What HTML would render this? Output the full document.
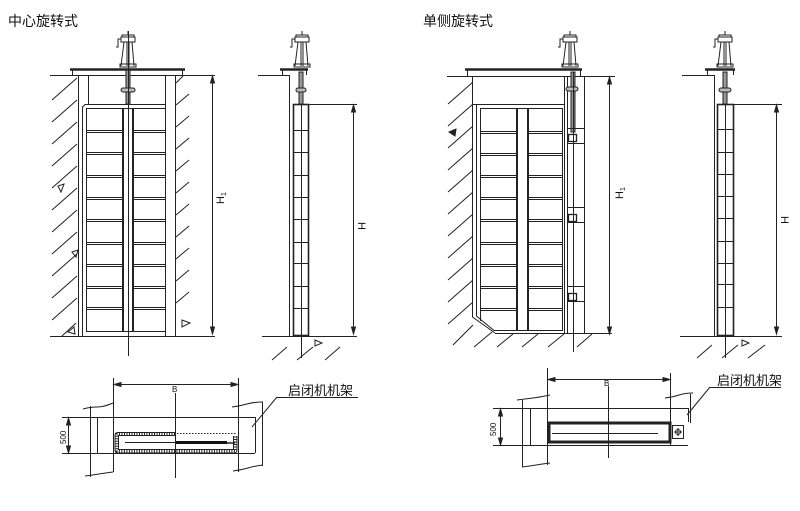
<!DOCTYPE html>
<html><head><meta charset="utf-8"><style>
html,body{margin:0;padding:0;background:#fff;}
svg{display:block;}
text{font-family:"Liberation Sans","Noto Sans CJK SC",sans-serif;fill:#111;}
</style></head><body>
<svg width="800" height="511" viewBox="0 0 800 511" xmlns="http://www.w3.org/2000/svg">
<rect width="800" height="511" fill="#fff"/>
<text x="8" y="26" font-size="14">中心旋转式</text>
<text x="423" y="26" font-size="14">单侧旋转式</text>

<g stroke="#222" stroke-width="1" fill="none">
<!-- ============ LEFT FRONT VIEW ============ -->
<g transform="translate(128,0)">
 <path d="M0 31V35"/><rect x="-6" y="35" width="12" height="2"/><rect x="-7" y="37" width="14" height="5"/>
 <path d="M-7 39H-10V47H-12"/><path d="M-4 42L-7 66M4 42L6 66M-1 42V66M1 42V66"/><rect x="-8" y="64" width="16" height="3"/>
</g>
<path d="M70 69.5H185" stroke-width="2.5"/>
<path d="M72.5 69V75M182.5 69V75"/>
<path d="M50 75.5H215"/>
<path d="M78.5 75V336M88.5 75V104M165.5 75V336M175.5 75V336"/>
<path d="M82.5 336V107L85 104.5H165"/>
<path d="M86.5 331V108.5H165"/>
<path d="M86 331.5H165"/>
<path d="M122.5 108V331M123.5 108V331M132.5 108V331M133.5 108V331"/>
<rect x="126" y="70" width="4" height="34" fill="#999"/>
<rect x="121" y="88" width="14" height="4" rx="2" fill="#bbb"/>
<path d="M86 130.5H122M86 132.5H122M134 130.5H165M134 132.5H165
M86 152.5H122M86 154.5H122M134 152.5H165M134 154.5H165
M86 175.5H122M86 177.5H122M134 175.5H165M134 177.5H165
M86 197.5H122M86 199.5H122M134 197.5H165M134 199.5H165
M86 219.5H122M86 221.5H122M134 219.5H165M134 221.5H165
M86 242.5H122M86 244.5H122M134 242.5H165M134 244.5H165
M86 264.5H122M86 266.5H122M134 264.5H165M134 266.5H165
M86 286.5H122M86 288.5H122M134 286.5H165M134 288.5H165
M86 307.5H122M86 309.5H122M134 307.5H165M134 309.5H165"/>
<path d="M128.5 31V356"/>
<path d="M50 336.5H215"/>
<path d="M52 100L77 78M52 122L77 100M52 144L77 122M52 166L77 144M52 188L77 166M52 210L77 188M52 232L77 210M52 254L77 232M52 276L77 254M52 298L77 276M52 320L77 298M62 336L76 323"/>
<path d="M176 83L183 76M176 105L189 94M176 127L189 116M176 149L189 138M176 171L189 160M176 193L189 182M176 215L189 204M176 237L189 226M176 259L189 248M176 281L189 270M176 303L189 292"/>
<path d="M58 186L64 184L61 192Z M72 252L78 250L76 257Z M68 332L74 327L75 334Z M182 320L190 323L182 327Z"/>
<path d="M212.5 78V333"/>
<path d="M212.5 76l-2 7h4z M212.5 334l-2 -7h4z" fill="#222"/>

<!-- ============ LEFT SIDE VIEW ============ -->
<g transform="translate(302,0)">
 <path d="M0 31V35"/><rect x="-6" y="35" width="12" height="2"/><rect x="-7" y="37" width="14" height="5"/>
 <path d="M-7 39H-10V47H-12"/><path d="M-4 42L-7 66M4 42L6 66M-1 42V66M1 42V66"/><rect x="-8" y="64" width="16" height="3"/>
</g>
<path d="M280 69.5H308" stroke-width="2.5"/>
<path d="M282.5 69V75M306.5 69V75"/>
<path d="M258 75.5H290"/>
<path d="M289.5 75V336"/>
<rect x="299" y="72" width="4" height="32" fill="#999"/>
<rect x="296" y="88" width="10" height="4" rx="2" fill="#bbb"/>
<rect x="293.5" y="104.5" width="15" height="231" stroke-width="1.6"/>
<path d="M301.5 104V358"/>
<path d="M294 130.5H309M294 152.5H309M294 175.5H309M294 197.5H309M294 219.5H309M294 242.5H309M294 263.5H309M294 286.5H309M294 308.5H309"/>
<path d="M309 104.5H357"/>
<path d="M353.5 107V331"/>
<path d="M353.5 105l-2 7h4z M353.5 334l-2 -7h4z" fill="#222"/>
<path d="M262 336.5H357"/>
<path d="M272 360L287 347M297 360L313 347M325 360L340 347"/>
<path d="M315 340L322 343L315 346Z"/>

<!-- ============ RIGHT FRONT VIEW ============ -->
<g transform="translate(570,0)">
 <path d="M0 31V35"/><rect x="-6" y="35" width="12" height="2"/><rect x="-7" y="37" width="14" height="5"/>
 <path d="M-7 39H-10V47H-12"/><path d="M-4 42L-7 66M4 42L6 66M-1 42V66M1 42V66"/><rect x="-8" y="64" width="16" height="3"/>
</g>
<path d="M465 69.5H582" stroke-width="2.5"/>
<path d="M467.5 69V76M580.5 69V76"/>
<path d="M447 76.5H615"/>
<path d="M472.5 76V317L495 333"/>
<path d="M476.5 104V316L494 330.5H562"/>
<path d="M473 104.5H564M480.5 108V321M480 108.5H562"/>
<path d="M516.5 108V331M517.5 108V331M527.5 108V331M528.5 108V331M562.5 108V331"/>
<path d="M564.5 76V333M567.5 76V334M584.5 76V334"/>
<path d="M495 333.5H612"/>
<path d="M480 131.5H516M480 133.5H516M529 131.5H562M529 133.5H562
M480 153.5H516M480 155.5H516M529 153.5H562M529 155.5H562
M480 175.5H516M480 177.5H516M529 175.5H562M529 177.5H562
M480 197.5H516M480 199.5H516M529 197.5H562M529 199.5H562
M480 219.5H516M480 221.5H516M529 219.5H562M529 221.5H562
M480 242.5H516M480 244.5H516M529 242.5H562M529 244.5H562
M480 264.5H516M480 266.5H516M529 264.5H562M529 266.5H562
M480 286.5H516M480 288.5H516M529 286.5H562M529 288.5H562
M480 308.5H516M480 310.5H516M529 308.5H562M529 310.5H562"/>
<rect x="571" y="72" width="4" height="60" fill="#999"/>
<rect x="566" y="87" width="12" height="4" rx="2" fill="#bbb"/>
<path d="M567 128.5H584M567 143.5H584M567 207.5H584M567 222.5H584M567 286.5H584M567 301.5H584"/>
<rect x="568.5" y="134.5" width="8" height="7" stroke-width="1.3"/>
<rect x="568.5" y="214.5" width="8" height="7" stroke-width="1.3"/>
<rect x="568.5" y="293.5" width="8" height="7" stroke-width="1.3"/>
<path d="M573.5 72V352"/>
<path d="M448 104L473 82M448 126L473 104M448 148L473 126M448 170L473 148M448 192L473 170M448 214L473 192M448 236L473 214M448 258L473 236M448 280L473 258M448 302L473 280M448 324L473 302"/>
<path d="M453 345L473 325M474 347L492 332M497 347L513 334M522 347L538 334M548 347L564 334M577 347L592 334"/>
<path d="M449 132L456 129L455 136Z" fill="#222"/>
<path d="M609.5 79V331"/>
<path d="M609.5 77l-2 7h4z M609.5 334l-2 -7h4z" fill="#222"/>

<!-- ============ RIGHT SIDE VIEW ============ -->
<g transform="translate(725,0)">
 <path d="M0 31V35"/><rect x="-6" y="35" width="12" height="2"/><rect x="-7" y="37" width="14" height="5"/>
 <path d="M-7 39H-10V47H-12"/><path d="M-4 42L-7 66M4 42L6 66M-1 42V66M1 42V66"/><rect x="-8" y="64" width="16" height="3"/>
</g>
<path d="M705 69.5H735" stroke-width="2.5"/>
<path d="M707.5 69V75M733.5 69V75"/>
<path d="M682 75.5H715"/>
<path d="M714.5 75V336"/>
<rect x="723" y="72" width="4" height="32" fill="#999"/>
<rect x="719" y="88" width="12" height="4" rx="2" fill="#bbb"/>
<rect x="717.5" y="104.5" width="16" height="231" stroke-width="1.6"/>
<path d="M725.5 104V358"/>
<path d="M718 129.5H734M718 152.5H734M718 174.5H734M718 196.5H734M718 218.5H734M718 241.5H734M718 263.5H734M718 284.5H734M718 307.5H734"/>
<path d="M734 104.5H782"/>
<path d="M776.5 107V331"/>
<path d="M776.5 105l-2 7h4z M776.5 334l-2 -7h4z" fill="#222"/>
<path d="M680 336.5H782"/>
<path d="M697 358L712 345M722 358L738 345M748 358L765 345"/>
<path d="M742 340L749 343L742 346Z"/>

<!-- ============ LEFT PLAN ============ -->
<path d="M83 409q7 -2 14 -2t16 -4M85 476q8 -1 14 -2t14 -2M232 407q8 -1 15 -3t16 -2M233 471q8 -1 15 -3t15 -3"/>
<path d="M90.5 406V477M262.5 402V466"/>
<path d="M113.5 378V472M238.5 378V472"/>
<path d="M116 384.5H236"/>
<path d="M114 384.5l7 -2v4z M238 384.5l-7 -2v4z" fill="#222"/>
<path d="M175.5 393V478"/>
<path d="M62 417.5H255M62 453.5H255M255.5 417V453M97.5 417V453"/>
<path d="M68.5 420V451"/>
<path d="M68.5 418l-2 7h4z M68.5 453l-2 -7h4z" fill="#222"/>
<!-- gate plan: ladder border -->
<path d="M175 432.5H118q-3 0 -3 3V450q0 3 3 3H234q3 0 3 -3V436"/>
<path d="M175 435.5H118.5V449.5H233.5V436"/>
<path d="M175 434H116.8V451.2H235.2V435" stroke-width="2.6" stroke-dasharray="1 1.5"/>
<path d="M177 433.5H236" stroke-dasharray="1.5 1.5"/>
<path d="M125 442.5H175"/>
<rect x="176" y="441" width="51" height="3" fill="#111" stroke="none"/>
<path d="M227 443H235" stroke-width="1.5"/>
<path d="M277 397.5H358M277 397L252 427"/>

<!-- ============ RIGHT PLAN ============ -->
<path d="M517 400q8 -1 16 -2t17 -3M522 467q8 -1 14 -2t14 -2M665 398q8 -1 14 -3t14 -2"/>
<path d="M522.5 400V467M690.5 394V423"/>
<path d="M547.5 368V465M670.5 373V445"/>
<path d="M549 379.5H669"/>
<path d="M548 379.5l7 -2v4z M670 379.5l-7 -2v4z" fill="#222"/>
<path d="M608.5 386V458"/>
<path d="M493 408.5H688M493 445.5H688M530.5 408V445M688.5 408V422"/>
<path d="M500.5 411V443"/>
<path d="M500.5 409l-2 7h4z M500.5 445l-2 -7h4z" fill="#222"/>
<rect x="549" y="423" width="121" height="19" stroke-width="3"/>
<path d="M552 433.5H658"/>
<rect x="672.5" y="425.5" width="11" height="13"/>
<circle cx="678" cy="432" r="2.5"/>
<path d="M674 432H682M678 428V436"/>
<path d="M710 387.5H781M710 387L687 415"/>
</g>

<!-- labels -->
<text font-size="11" transform="translate(224,204) rotate(-90)">H<tspan font-size="7" dy="2">1</tspan></text>
<text font-size="11" transform="translate(358,222) rotate(90)">H</text>
<text font-size="11" transform="translate(623,199) rotate(-90)">H<tspan font-size="7" dy="2">1</tspan></text>
<text font-size="11" transform="translate(781,216) rotate(90)">H</text>
<text font-size="8" x="172" y="392">B</text>
<text font-size="8" x="604" y="386">B</text>
<text font-size="8" transform="translate(66,444) rotate(-90)">500</text>
<text font-size="8" transform="translate(496,436) rotate(-90)">500</text>
<text font-size="13" x="288" y="395">启闭机机架</text>
<text font-size="13" x="717" y="385">启闭机机架</text>
</svg>
</body></html>
